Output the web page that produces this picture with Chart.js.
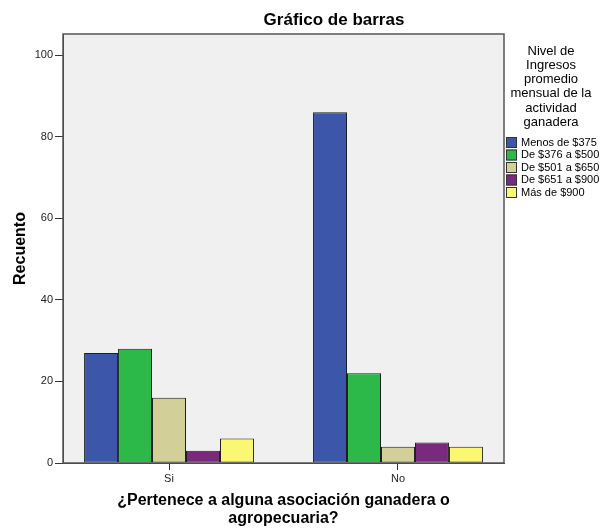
<!DOCTYPE html>
<html>
<head>
<meta charset="utf-8">
<script src="https://cdn.jsdelivr.net/npm/chart.js@4/dist/chart.umd.min.js"></script>
<style>
    html, body { margin: 0; padding: 0; background: #ffffff; }
    #wrap { width: 603px; height: 529px; }
</style>
</head>
<body>
<div id="wrap"><canvas id="grafico" width="603" height="529"></canvas></div>
<script>
const categorias = ['Si', 'No'];
const nivelesIngreso = ['Menos de $375', 'De $376 a $500', 'De $501 a $650', 'De $651 a $900', 'Más de $900'];
const menos375 = [27, 86];
const de376a500 = [28, 22];
const de501a650 = [16, 4];
const de651a900 = [3, 5];
const mas900 = [6, 4];
const ticksY = [0, 20, 40, 60, 80, 100];
const tituloLeyenda = ['Nivel de', 'Ingresos', 'promedio', 'mensual de la', 'actividad', 'ganadera'];

const series = [menos375, de376a500, de501a650, de651a900, mas900];
const colores = ['#3c57a9', '#2db84a', '#d3cf99', '#7a2a7d', '#faf872'];

const FUENTE = '"Liberation Sans", Arial, sans-serif';

// fondo gris del area de trazado y su borde
const fondoPlot = {
    id: 'fondoPlot',
    beforeDraw(chart) {
        const { ctx, chartArea: a } = chart;
        ctx.save();
        ctx.fillStyle = '#f0f0f0';
        ctx.fillRect(a.left, a.top, a.right - a.left, a.bottom - a.top);
        ctx.restore();
    },
    afterDraw(chart) {
        const { ctx, chartArea: a } = chart;
        ctx.save();
        ctx.strokeStyle = '#555555';
        ctx.lineWidth = 1.5;
        ctx.strokeRect(a.left, a.top, a.right - a.left, a.bottom - a.top);
        ctx.restore();
    }
};

// titulo y leyenda al estilo SPSS
const textos = {
    id: 'textos',
    afterDraw(chart) {
        const ctx = chart.ctx;
        ctx.save();
        ctx.fillStyle = '#000000';
        ctx.textAlign = 'center';
        ctx.textBaseline = 'middle';
        ctx.font = 'bold 17px ' + FUENTE;
        ctx.fillText('Gráfico de barras', 334, 20);

        ctx.font = '13px ' + FUENTE;
        tituloLeyenda.forEach((linea, i) => {
            ctx.fillText(linea, 551, 51 + i * 14.3);
        });

        ctx.textAlign = 'left';
        ctx.font = '11px ' + FUENTE;
        chart.data.datasets.forEach((ds, i) => {
            const y = 142 + i * 12.5;
            ctx.fillStyle = ds.backgroundColor;
            ctx.fillRect(506, y - 5, 11, 11);
            ctx.strokeStyle = '#333333';
            ctx.lineWidth = 1;
            ctx.strokeRect(506.5, y - 4.5, 10, 10);
            ctx.fillStyle = '#000000';
            ctx.fillText(ds.label, 521, y + 0.5);
        });
        ctx.restore();
    }
};

new Chart(document.getElementById('grafico'), {
    type: 'bar',
    data: {
        datasets: series.map((valores, i) => ({
            label: nivelesIngreso[i],
            data: valores.map((v, j) => ({ x: j, y: v })),
            backgroundColor: colores[i],
            borderColor: '#1e1e1e',
            borderWidth: 1,
            borderSkipped: false,
            categoryPercentage: 0.742,
            barPercentage: 1.0
        }))
    },
    options: {
        responsive: false,
        animation: false,
        layout: { padding: { top: 34, right: 99, left: 0, bottom: 0 } },
        plugins: {
            legend: { display: false },
            title: { display: false },
            tooltip: { enabled: false }
        },
        scales: {
            x: {
                type: 'linear',
                min: -0.463,
                max: 1.463,
                offset: false,
                afterFit: (s) => { s.height = 66; },
                afterBuildTicks: (s) => { s.ticks = categorias.map((c, i) => ({ value: i })); },
                grid: { offset: false, drawOnChartArea: false, drawTicks: true, tickLength: 7, color: '#333333' },
                border: { display: true, color: '#333333', width: 1 },
                ticks: {
                    padding: 2,
                    color: '#222222',
                    font: { family: FUENTE, size: 11 },
                    callback: (v) => categorias[v] ?? ''
                },
                title: {
                    display: true,
                    text: ['¿Pertenece a alguna asociación ganadera o', 'agropecuaria?'],
                    color: '#000000',
                    font: { family: FUENTE, size: 16, weight: 'bold', lineHeight: 1.1 },
                    padding: { top: 0, bottom: 2 }
                }
            },
            y: {
                min: 0,
                max: 105.2,
                afterFit: (s) => { s.width = 63; },
                afterBuildTicks: (s) => { s.ticks = ticksY.map(v => ({ value: v })); },
                grid: { drawOnChartArea: false, drawTicks: true, tickLength: 8, color: '#333333' },
                border: { display: true, color: '#333333', width: 1 },
                ticks: {
                    padding: 2,
                    color: '#222222',
                    font: { family: FUENTE, size: 11 }
                },
                title: {
                    display: true,
                    text: 'Recuento',
                    color: '#000000',
                    font: { family: FUENTE, size: 16, weight: 'bold' },
                    padding: { top: 10.5, bottom: 0 }
                }
            }
        }
    },
    plugins: [fondoPlot, textos]
});
</script>
</body>
</html>
